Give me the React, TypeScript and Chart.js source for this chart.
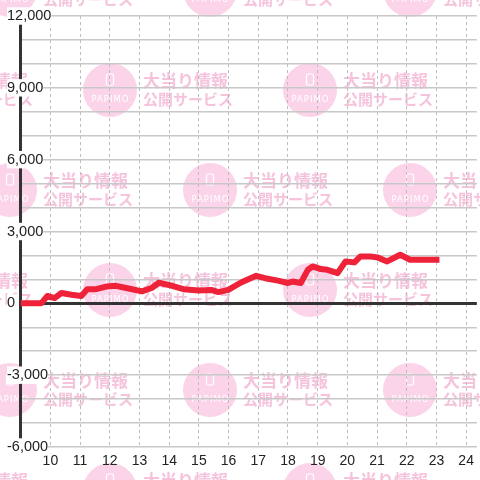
import { useEffect, useRef } from 'react';
import { Chart, registerables } from 'chart.js';

Chart.register(...registerables);

// time of day (hours) and cumulative balance
const hours = [
  9.0, 9.69, 9.9, 10.14, 10.37, 10.71, 11.04, 11.24, 11.54, 11.88, 12.21, 12.55,
  12.75, 13.08, 13.41, 13.65, 13.98, 14.48, 14.99, 15.42, 15.66, 15.99, 16.42,
  16.93, 17.23, 17.66, 18.0, 18.16, 18.43, 18.67, 18.83, 19.1, 19.33, 19.67,
  19.94, 20.24, 20.44, 20.77, 21.01, 21.34, 21.78, 22.11, 23.0,
];
const balance = [
  0, 0, 310, 220, 430, 360, 310, 590, 590, 700, 730, 640,
  590, 500, 640, 860, 770, 590, 540, 560, 470, 560, 870,
  1150, 1050, 950, 850, 910, 850, 1400, 1540, 1430, 1400, 1260,
  1750, 1710, 1960, 1960, 1920, 1750, 2030, 1820, 1820,
];

const xMin = 9;
const xMax = 24.36;
const yMin = -6000;
const yMax = 12000;
const yStep = 1000;
const yLabelEvery = 3000;
const firstHourLabel = 10;

const watermarkLine1 = '大当り情報';
const watermarkLine2 = '公開サービス';
const watermarkBrand = 'PAPIMO';

const watermarkPlugin = {
  id: 'watermark',
  beforeDraw(chart: any) {
    const ctx = chart.ctx as CanvasRenderingContext2D;
    ctx.save();
    ctx.fillStyle = '#ffffff';
    ctx.fillRect(0, 0, chart.width, chart.height);
    for (let r = 0; r < 7; r++) {
      const cy = -10 + 100 * r;
      const cx0 = r % 2 === 0 ? 10 : 110;
      for (let cx = cx0 - 200; cx < chart.width + 100; cx += 200) {
        ctx.fillStyle = '#fbd4e9';
        ctx.beginPath();
        ctx.arc(cx, cy, 27, 0, Math.PI * 2);
        ctx.fill();
        // phone icon
        ctx.strokeStyle = '#ffffff';
        ctx.lineWidth = 1.2;
        ctx.beginPath();
        (ctx as any).roundRect(cx - 3.5, cy - 16, 7, 11, 1.5);
        ctx.stroke();
        // brand
        ctx.fillStyle = '#ffffff';
        ctx.font = '8.5px "DejaVu Sans"';
        (ctx as any).letterSpacing = '1px';
        ctx.textAlign = 'center';
        ctx.textBaseline = 'middle';
        ctx.fillText(watermarkBrand, cx + 0.5, cy + 10);
        (ctx as any).letterSpacing = '0px';
        // text
        ctx.fillStyle = '#f6c3dd';
        ctx.textAlign = 'left';
        ctx.font = 'bold 17px "Noto Sans CJK JP"';
        ctx.fillText(watermarkLine1, cx + 33, cy - 9);
        ctx.font = 'bold 15px "Noto Sans CJK JP"';
        ctx.fillText(watermarkLine2, cx + 33, cy + 9);
      }
    }
    ctx.restore();
  },
};

export default function App() {
  const ref = useRef<HTMLCanvasElement | null>(null);

  useEffect(() => {
    document.body.style.margin = '0';
    const canvas = ref.current;
    if (!canvas) return;
    const points = hours.map((h, i) => ({ x: h, y: balance[i] }));
    const chart = new Chart(canvas, {
      type: 'line',
      data: {
        datasets: [
          {
            data: points,
            borderColor: '#ee2239',
            borderWidth: 6,
            pointRadius: 0,
            tension: 0,
            borderCapStyle: 'square',
            borderJoinStyle: 'round',
          },
        ],
      },
      options: {
        animation: false,
        responsive: false,
        devicePixelRatio: 1,
        layout: { padding: { left: 7, top: 16, right: 0, bottom: 0 } },
        plugins: {
          legend: { display: false },
          tooltip: { enabled: false },
        },
        scales: {
          x: {
            type: 'linear',
            min: xMin,
            max: xMax,
            z: -1,
            border: { display: false },
            grid: {
              color: (c: any) => (c.tick && c.tick.value === xMin ? 'rgba(0,0,0,0)' : '#bdbdbd'),
              lineWidth: 1,
              drawTicks: false,
            },
            ticks: {
              stepSize: 1,
              includeBounds: false,
              autoSkip: false,
              maxRotation: 0,
              padding: 6,
              color: '#222',
              font: { family: '"Liberation Sans", Arial, sans-serif', size: 14 },
              callback: (v: any) => (v >= firstHourLabel && Number.isInteger(v) ? String(v) : ''),
            },
            afterFit: (s: any) => {
              s.height = 33;
            },
          } as any,
          y: {
            type: 'linear',
            min: yMin,
            max: yMax,
            border: { display: true, color: '#333', width: 3 },
            grid: {
              color: (c: any) => (c.tick && c.tick.value === 0 ? '#333' : '#c8c8c8'),
              lineWidth: (c: any) => (c.tick && c.tick.value === 0 ? 3 : 1.5),
              drawTicks: false,
            },
            ticks: {
              stepSize: yStep,
              autoSkip: false,
              mirror: true,
              padding: -13.7,
              color: '#222',
              font: { family: '"Liberation Sans", Arial, sans-serif', size: 14.5 },
              showLabelBackdrop: (c: any) => c.tick && c.tick.value % yLabelEvery === 0,
              backdropColor: '#ffffff',
              backdropPadding: (c: any) =>
                c.tick && c.tick.value === yMin
                  ? { top: 2, left: 2, right: 2, bottom: -4 }
                  : 2,
              callback: (v: any) => (v % yLabelEvery === 0 ? Number(v).toLocaleString('en-US') : ''),
            } as any,
            afterFit: (s: any) => {
              s.width = 13.7;
            },
          } as any,
        },
      },
      plugins: [watermarkPlugin],
    });
    (chart.options.scales as any).x.border.dash = [3, 3];
    chart.update();
    return () => chart.destroy();
  }, []);

  return <canvas ref={ref} width={480} height={480} style={{ display: 'block' }} />;
}
